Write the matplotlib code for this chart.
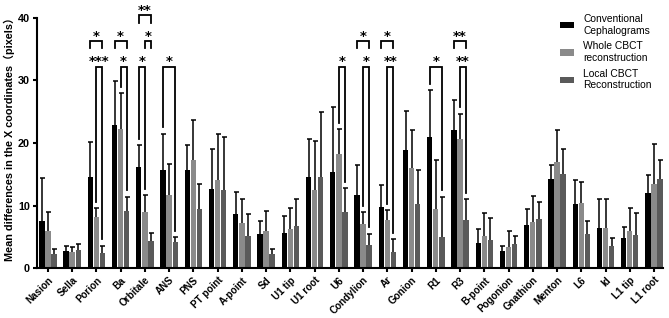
import numpy as np
import matplotlib.pyplot as plt

plt.rcParams['font.family'] = ['Liberation Sans', 'Noto Sans CJK SC']

categories = ['Nasion', 'Sella', 'Porion', 'Ba', 'Orbitale', 'ANS', 'PNS', 'PT point',
              'A-point', 'Sd', 'U1 tip', 'U1 root', 'U6', 'Condylion', 'Ar', 'Gonion',
              'R1', 'R3', 'B-point', 'Pogonion', 'Gnathion', 'Menton', 'L6', 'Id',
              'L1 tip', 'L1 root']

conv_mean = [7.5, 2.7, 14.5, 22.9, 16.1, 15.6, 15.7, 12.6, 8.7, 5.5, 5.6, 14.5, 15.3,
             11.7, 9.8, 18.8, 21.0, 22.1, 4.0, 2.7, 6.9, 14.3, 10.2, 6.4, 4.8, 12.0]
conv_sd = [6.9, 0.9, 5.7, 7.0, 3.5, 5.9, 3.9, 6.4, 3.4, 2.1, 2.8, 6.1, 10.4,
           4.7, 3.4, 6.3, 7.4, 4.7, 2.2, 0.9, 2.5, 2.2, 3.8, 4.6, 1.8, 2.8]

whole_mean = [5.9, 2.55, 8.1, 22.2, 9.0, 11.6, 17.3, 14.1, 7.2, 6.0, 6.2, 12.4, 18.3,
              7.1, 7.7, 16.0, 9.4, 20.7, 5.1, 3.3, 7.4, 16.9, 10.4, 6.4, 5.9, 13.4]
whole_sd = [3.0, 0.75, 1.5, 5.8, 2.7, 5.1, 6.3, 7.3, 3.9, 3.1, 3.4, 7.9, 3.9,
            1.9, 1.6, 6.1, 7.8, 4.0, 3.7, 2.7, 4.1, 5.1, 3.3, 4.6, 3.7, 6.5]

local_mean = [2.3, 2.9, 2.4, 9.15, 4.3, 4.1, 9.5, 12.4, 5.2, 2.3, 6.8, 14.5, 8.9,
              3.7, 2.6, 10.2, 4.9, 7.7, 4.5, 3.9, 7.9, 15.1, 5.5, 3.6, 5.3, 14.3]
local_sd = [0.7, 0.9, 1.2, 2.25, 1.3, 0.85, 4.0, 8.6, 3.4, 0.7, 4.2, 10.4, 3.9,
            1.8, 2.0, 5.4, 6.5, 3.3, 3.5, 1.3, 2.7, 3.9, 2.1, 1.2, 3.5, 2.9]

series_names = ['Conventional\nCephalograms', 'Whole CBCT\nreconstruction',
                'Local CBCT\nReconstruction']

# significance brackets: category, first series, second series, level, label
sig_cat = [2, 2, 3, 3, 4, 4, 4, 5, 12, 13, 13, 14, 14, 16, 17, 17]
sig_a = [0, 1, 0, 1, 0, 1, 0, 0, 1, 0, 1, 0, 1, 0, 0, 1]
sig_b = [2, 2, 2, 2, 2, 2, 1, 2, 2, 2, 2, 2, 2, 2, 2, 2]
sig_level = [1, 0, 1, 0, 2, 1, 0, 0, 0, 1, 0, 1, 0, 0, 1, 0]
sig_label = ['*', '***', '*', '*', '**', '*', '*', '*', '*', '*', '*', '*', '**', '*', '**', '**']


def main():
    fig = plt.figure(figsize=(6.69, 3.18), dpi=100)
    ax = fig.add_axes([0.0553, 0.157, 0.9357, 0.787])

    x = np.arange(len(categories))
    offsets = [-0.25, 0.0, 0.25]
    colors = ['#000000', '#8a8a8a', '#5a5a5a']
    means = [conv_mean, whole_mean, local_mean]
    sds = [conv_sd, whole_sd, local_sd]
    width = 0.22

    for i in range(3):
        ax.bar(x + offsets[i], means[i], width, color=colors[i], label=series_names[i], zorder=2)
        eb = ax.errorbar(x + offsets[i], means[i], yerr=[np.zeros(len(x)), sds[i]],
                         fmt='none', ecolor='black', elinewidth=1.1, capsize=1.8,
                         capthick=1.1, zorder=3)
        eb[1][0].set_visible(False)

    level_y = [32.2, 36.3, 40.4]
    for c, a, b, lv, lab in zip(sig_cat, sig_a, sig_b, sig_level, sig_label):
        xa = c + offsets[a]
        xb = c + offsets[b]
        top = level_y[lv]
        if lv == 0:
            ya = means[a][c] + sds[a][c] + 1.0
            yb = means[b][c] + sds[b][c] + 1.0
        else:
            ya = top - 1.2
            yb = top - 1.2
        ax.plot([xa, xa, xb, xb], [ya, top, top, yb], color='black', lw=1.3,
                clip_on=False, zorder=4, solid_joinstyle='miter')
        ax.text((xa + xb) / 2, top + 0.2, lab, ha='center', va='baseline',
                fontsize=9.5, fontweight='bold', family='DejaVu Sans', clip_on=False)

    ax.set_xlim(-0.45, 25.37)
    ax.set_ylim(0, 40)
    ax.set_yticks([0, 10, 20, 30, 40])
    ax.set_xticks(x)
    ax.set_xticklabels(categories, rotation=45, ha='right', rotation_mode='anchor',
                       fontsize=7.1, fontweight='bold')
    for lab in ax.get_yticklabels():
        lab.set_fontweight('bold')
        lab.set_fontsize(7.8)

    ax.spines['top'].set_visible(False)
    ax.spines['right'].set_visible(False)
    ax.spines['left'].set_linewidth(1.5)
    ax.spines['bottom'].set_linewidth(1.5)
    ax.tick_params(axis='both', direction='out', length=3, width=1.5, pad=2)

    ax.set_ylabel('Mean differences in the X coordinates（pixels）', fontsize=7.8,
                  fontweight='bold')
    ax.yaxis.set_label_coords(-0.035, 0.527)

    ax.legend(loc='upper left', bbox_to_anchor=(560 / 669, 1 - 14 / 318),
              bbox_transform=fig.transFigure, frameon=False, fontsize=7.4,
              handlelength=1.37, handleheight=0.57, handletextpad=0.9,
              labelspacing=0.55, borderpad=0, borderaxespad=0)

    plt.savefig('out.png', dpi=100)


if __name__ == '__main__':
    main()
